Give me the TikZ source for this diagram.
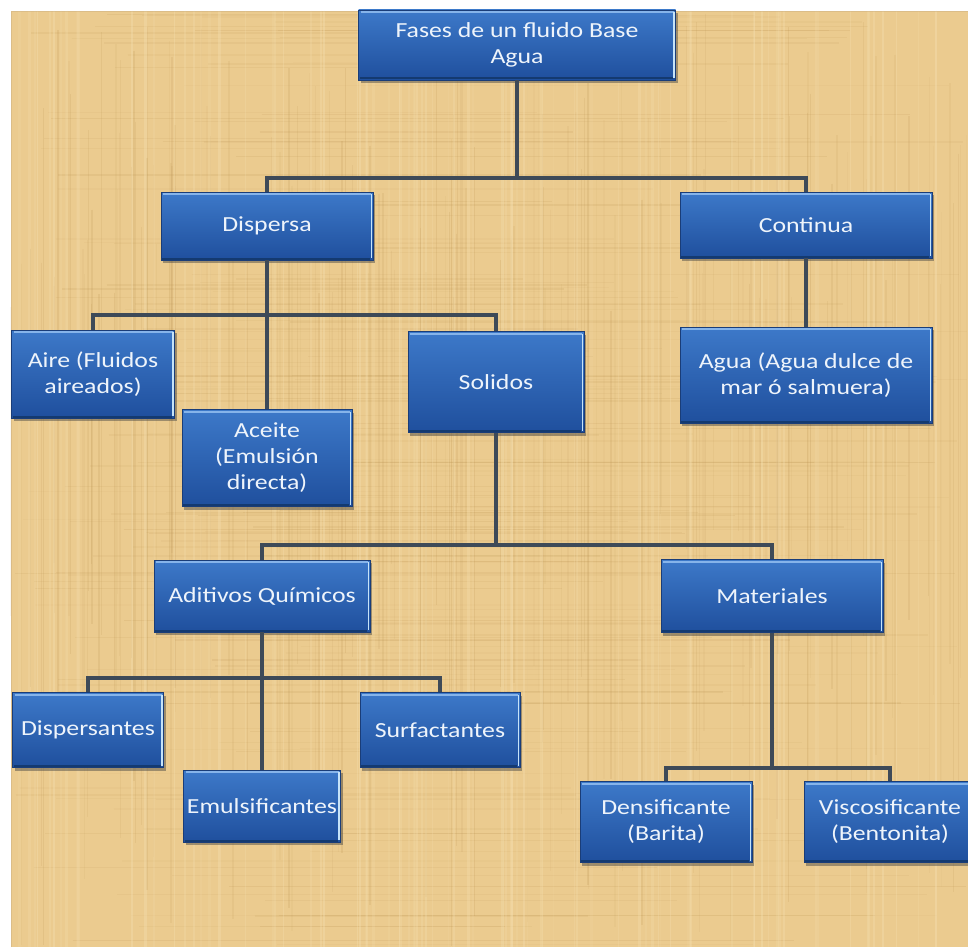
\documentclass[tikz,border=0pt]{standalone}
\usepackage{fontspec}
\newfontfamily\boxfont{Carlito}[FakeStretch=1.2]
\usetikzlibrary{shadows,calc}
\definecolor{parch}{HTML}{EBCB8F}
\definecolor{parchdark}{HTML}{B8904E}
\definecolor{parchlight}{HTML}{F6E2B4}
\definecolor{boxtop}{HTML}{3D79C9}
\definecolor{boxbot}{HTML}{1F4F9D}
\definecolor{boxedge}{HTML}{1A3D78}
\definecolor{boxhi}{HTML}{86B4EA}
\definecolor{boxside}{HTML}{C6E3F8}
\definecolor{boxlow}{HTML}{143A70}
\definecolor{conncol}{HTML}{3E4A58}
\definecolor{txtcol}{HTML}{EEF4FB}
\tikzset{
  blk/.style={rectangle, inner sep=0pt, align=center,
    top color=boxtop, bottom color=boxbot, draw=boxedge, line width=0.8pt,
    text=txtcol, font=\boxfont\fontsize{21.5}{26}\selectfont,
    drop shadow={shadow xshift=2pt, shadow yshift=-3pt, opacity=.45, fill=black!75},
    path picture={
      \draw[line width=2pt, boxhi]
        ([xshift=2pt,yshift=-2pt]path picture bounding box.north west) --
        ([xshift=-2pt,yshift=-2pt]path picture bounding box.north east);
      \draw[line width=1.6pt, boxside]
        ([xshift=-1.6pt,yshift=-2pt]path picture bounding box.north east) --
        ([xshift=-1.6pt,yshift=2pt]path picture bounding box.south east);
      \draw[line width=2pt, boxlow]
        ([xshift=1pt,yshift=1.5pt]path picture bounding box.south west) --
        ([xshift=-3pt,yshift=1.5pt]path picture bounding box.south east);
    }},
  conn/.style={draw=conncol, line width=3.6pt}
}
\begin{document}
\begin{tikzpicture}[x=1pt,y=-1pt]
\useasboundingbox (0,0) rectangle (968,947);
\clip (0,0) rectangle (968,947);
\fill[white] (0,0) rectangle (968,947);
\fill[parch] (11,11) rectangle (968,947);
% parchment texture
\pgfmathsetseed{7}
\foreach \i in {1,...,170}{
  \pgfmathsetmacro\xx{11+957*rnd}
  \pgfmathsetmacro\opa{0.04+0.14*rnd}
  \pgfmathsetmacro\lwd{0.4+1.6*rnd}
  \pgfmathsetmacro\ya{11+300*rnd}
  \pgfmathsetmacro\yb{500+447*rnd}
  \draw[parchdark, opacity=\opa, line width=\lwd pt] (\xx,\ya) -- (\xx,\yb);
}
\foreach \i in {1,...,170}{
  \pgfmathsetmacro\yy{11+936*rnd}
  \pgfmathsetmacro\opa{0.04+0.12*rnd}
  \pgfmathsetmacro\lwd{0.4+1.6*rnd}
  \pgfmathsetmacro\xa{11+300*rnd}
  \pgfmathsetmacro\xb{500+468*rnd}
  \draw[parchdark, opacity=\opa, line width=\lwd pt] (\xa,\yy) -- (\xb,\yy);
}
\foreach \i in {1,...,90}{
  \pgfmathsetmacro\xx{11+957*rnd}
  \pgfmathsetmacro\opa{0.10+0.25*rnd}
  \pgfmathsetmacro\lwd{0.8+2*rnd}
  \draw[parchlight, opacity=\opa, line width=\lwd pt] (\xx,11) -- (\xx,947);
}
\draw[parchdark!70, line width=0.8pt, opacity=.5] (11,947) -- (11,11) -- (968,11);

% boxes
\node[blk, minimum width=317pt, minimum height=70pt] (top) at (517,45) {Fases de un fluido Base\\Agua};
\node[blk, minimum width=212pt, minimum height=68pt] (disp) at (267,226) {Dispersa};
\node[blk, minimum width=252pt, minimum height=66pt] (cont) at (806,225) {Continua};
\node[blk, minimum width=163pt, minimum height=88pt] (aire) at (93,374) {Aire (Fluidos\\aireados)};
\node[blk, minimum width=170pt, minimum height=97pt] (aceite) at (267,458) {Aceite\\(Emulsión\\directa)};
\node[blk, minimum width=176pt, minimum height=101pt] (solidos) at (496,382) {Solidos};
\node[blk, minimum width=252pt, minimum height=96pt] (agua) at (806,375) {Agua (Agua dulce de\\mar ó salmuera)};
\node[blk, minimum width=216pt, minimum height=72pt] (adit) at (262,596) {Aditivos Químicos};
\node[blk, minimum width=222pt, minimum height=73pt] (mat) at (772,596) {Materiales};
\node[blk, minimum width=151pt, minimum height=75pt] (dispers) at (88,730) {Dispersantes};
\node[blk, minimum width=157pt, minimum height=72pt] (emul) at (262,806) {Emulsificantes};
\node[blk, minimum width=160pt, minimum height=75pt] (surf) at (440,730) {Surfactantes};
\node[blk, minimum width=172pt, minimum height=81pt] (dens) at (666,822) {Densificante\\(Barita)};
\node[blk, minimum width=172pt, minimum height=81pt] (visc) at (890,822) {Viscosificante\\(Bentonita)};

% connectors
\coordinate (barA) at (0,178);
\coordinate (barB) at (0,315);
\coordinate (barC) at (0,545);
\coordinate (barD) at (0,678);
\coordinate (barE) at (0,768);
\draw[conn] (top.south) -- (top.south |- barA);
\draw[conn] (disp.north) |- (barA -| cont.north) -- (cont.north);
\draw[conn] (cont.south) -- (agua.north);
\draw[conn] (disp.south) -- (aceite.north);
\draw[conn] (aire.north) |- (barB -| solidos.north) -- (solidos.north);
\draw[conn] (solidos.south) -- (solidos.south |- barC);
\draw[conn] (adit.north) |- (barC -| mat.north) -- (mat.north);
\draw[conn] (adit.south) -- (emul.north);
\draw[conn] (dispers.north) |- (barD -| surf.north) -- (surf.north);
\draw[conn] (mat.south) -- (mat.south |- barE);
\draw[conn] (dens.north) |- (barE -| visc.north) -- (visc.north);
\end{tikzpicture}
\end{document}
